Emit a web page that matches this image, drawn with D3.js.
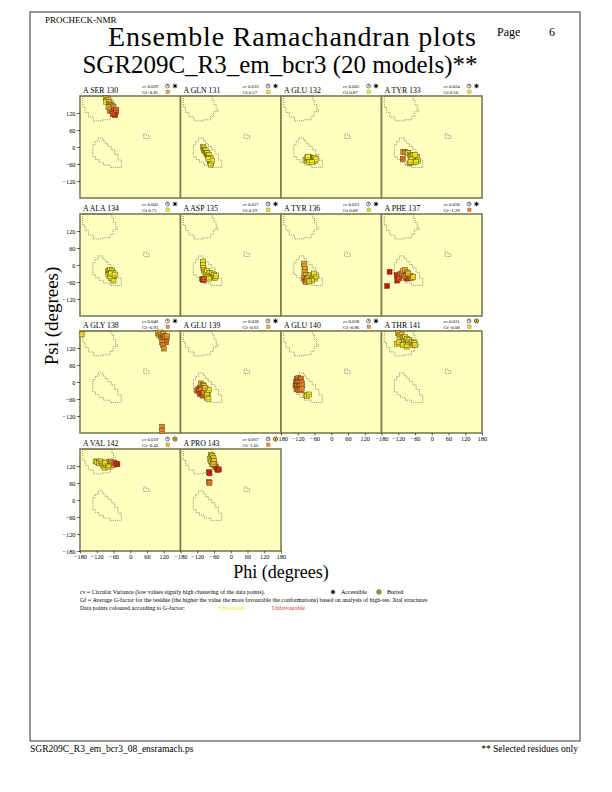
<!DOCTYPE html>
<meta charset="UTF-8">
<style>
body { margin: 0; background: #fff; }
.region { fill: none; stroke: #444; stroke-width: 0.6; stroke-dasharray: 1,1; }
.panel { fill: #ffffc0; stroke: #7c7c50; stroke-width: 1.6; }
</style>
<body>
<script src="https://cdnjs.cloudflare.com/ajax/libs/d3/7.8.5/d3.min.js"></script>
<script>
// residue labels and per-residue stats
const residues = ["A SER 130", "A GLN 131", "A GLU 132", "A TYR 133", "A ALA 134", "A ASP 135", "A TYR 136",
  "A PHE 137", "A GLY 138", "A GLU 139", "A GLU 140", "A THR 141", "A VAL 142", "A PRO 143"];
const cvValues = [0.029, 0.016, 0.005, 0.024, 0.003, 0.027, 0.023, 0.058, 0.046, 0.028, 0.028, 0.031, 0.019, 0.067];
const gfValues = [-0.81, 0.57, 0.87, 0.50, 0.75, 0.19, 0.09, -1.29, -0.93, -0.61, -0.86, -0.08, -0.43, -1.05];
const exposure = ["A", "A", "A", "A", "A", "A", "A", "A", "A", "A", "A", "B", "B", "B"];

// model points: [phi, psi, g-factor]
const ser130 = [[-88,172,0.3],[-84,168,0.2],[-80,165,0.1],[-86,160,0.2],[-76,158,-0.2],[-72,152,-0.3],[-68,148,-0.5],[-64,144,-0.6],[-60,140,-0.9],[-70,135,-1.0],[-74,128,-1.2],[-66,126,-1.4],[-58,128,-1.5],[-56,120,-2.0],[-52,124,-2.2],[-60,116,-2.5],[-54,112,-2.6],[-62,118,-2.0],[-50,130,-1.8],[-78,140,-0.8]];
const gln131 = [[-100,0,0.6],[-97,-5,0.5],[-95,-10,0.7],[-92,-15,0.4],[-90,-12,0.6],[-88,-20,0.5],[-86,-25,0.3],[-84,-22,0.6],[-82,-30,0.7],[-80,-35,0.5],[-78,-28,0.4],[-76,-40,0.6],[-74,-45,0.5],[-72,-38,0.8],[-75,-50,0.6],[-73,-55,0.4],[-70,-58,0.5],[-72,-62,0.6],[-68,-48,0.7],[-80,-42,0.6]];
const glu132 = [[-92,-45,0.8],[-88,-40,0.9],[-85,-48,0.7],[-82,-38,1.0],[-80,-44,0.8],[-78,-35,0.9],[-76,-42,0.7],[-74,-48,0.9],[-72,-38,0.8],[-70,-45,1.0],[-68,-40,0.9],[-66,-50,0.8],[-64,-42,0.7],[-62,-46,0.9],[-60,-38,0.8],[-58,-48,1.0],[-56,-44,0.9],[-78,-52,0.8],[-84,-34,0.9],[-70,-54,0.8]];
const tyr133 = [[-102,-18,-1.2],[-96,-18,-0.8],[-90,-20,-0.5],[-104,-42,-1.6],[-80,-58,-1.0],[-84,-22,0.3],[-78,-28,0.6],[-74,-32,0.8],[-70,-36,0.7],[-66,-30,0.9],[-62,-40,0.8],[-58,-44,0.7],[-54,-36,0.9],[-50,-48,0.6],[-68,-48,0.8],[-64,-54,0.7],[-72,-44,0.9],[-76,-52,0.5],[-60,-28,0.8],[-56,-52,0.7]];
const ala134 = [[-80,-25,0.7],[-76,-20,0.8],[-72,-18,0.9],[-70,-28,0.7],[-66,-22,0.8],[-64,-30,0.9],[-62,-35,0.7],[-68,-38,0.8],[-74,-32,0.6],[-78,-36,0.7],[-60,-28,0.8],[-58,-40,0.9],[-66,-44,0.7],[-62,-48,0.8],[-70,-45,0.8],[-60,-55,0.6],[-64,-40,0.9],[-72,-40,0.7],[-68,-30,0.8],[-56,-34,0.7]];
const asp135 = [[-100,12,0.5],[-99,0,0.4],[-98,-10,0.6],[-96,-18,0.3],[-94,-25,0.5],[-88,-30,0.4],[-84,-22,0.6],[-80,-35,0.5],[-76,-28,0.4],[-72,-38,0.6],[-68,-30,0.5],[-64,-42,0.4],[-60,-35,0.6],[-56,-45,0.3],[-52,-40,0.5],[-86,-44,0.4],[-78,-48,0.3],[-102,-50,-2.8],[-98,-54,-2.5],[-95,-50,-1.8]];
const tyr136 = [[-98,5,-0.8],[-96,-5,-0.6],[-94,-15,-0.5],[-96,-25,-1.0],[-92,-35,-0.7],[-98,-45,-1.3],[-94,-55,-1.5],[-90,-60,-1.1],[-86,-50,-0.4],[-82,-45,0.3],[-78,-40,0.5],[-74,-35,0.6],[-70,-45,0.4],[-66,-38,0.7],[-62,-42,0.6],[-58,-48,0.5],[-54,-40,0.7],[-70,-55,0.3],[-80,-58,-0.2],[-62,-30,0.6]];
const phe137 = [[-151,-24,-3.0],[-160,-74,-3.0],[-126,-35,-2.6],[-122,-42,-2.4],[-124,-55,-2.8],[-112,-32,-1.6],[-106,-30,-1.2],[-102,-20,-0.9],[-96,-18,-0.6],[-90,-26,-0.8],[-88,-35,-1.0],[-92,-45,-2.2],[-86,-48,-2.6],[-80,-44,-1.8],[-76,-38,-1.4],[-72,-46,-0.9],[-66,-42,0.4],[-100,-40,-1.5],[-84,-30,-0.5],[-118,-48,-2.0]];
const gly138 = [[-174,168,0.2],[100,172,-0.6],[104,165,-0.8],[108,175,-0.5],[110,160,-0.9],[112,168,-1.0],[116,155,-1.1],[118,170,-0.7],[120,150,-1.3],[122,162,-0.9],[126,145,-1.5],[124,158,-1.2],[130,152,-1.8],[128,140,-1.6],[132,162,-1.0],[114,140,-1.2],[118,130,-1.4],[120,118,-1.1],[114,-158,-1.3],[114,-172,-1.2]];
const glu139 = [[-106,-5,-0.8],[-100,-10,-0.5],[-96,-15,-0.4],[-110,-20,-1.2],[-116,-25,-1.6],[-120,-30,-2.0],[-112,-32,-1.4],[-106,-28,-1.0],[-104,-40,-2.2],[-110,-42,-2.4],[-100,-48,-1.8],[-96,-35,-0.9],[-90,-25,-0.6],[-86,-30,0.2],[-82,-38,0.4],[-78,-28,0.5],[-86,-45,0.3],[-84,-55,0.6],[-80,-60,0.5],[-92,-22,-0.3]];
const glu140 = [[-124,10,-1.6],[-118,14,-1.4],[-112,8,-1.2],[-108,12,-1.5],[-126,0,-1.8],[-120,-2,-1.3],[-114,-5,-1.0],[-106,-2,-1.4],[-128,-12,-1.9],[-122,-15,-1.6],[-116,-18,-1.2],[-110,-15,-1.1],[-104,-12,-1.3],[-124,-25,-1.5],[-118,-28,-1.7],[-112,-30,-1.4],[-106,-24,-1.2],[-92,-46,0.4],[-86,-50,0.5],[-80,-44,0.3]];
const thr141 = [[-120,172,-0.6],[-116,165,-0.3],[-112,160,0.0],[-108,168,-0.4],[-104,155,0.2],[-100,150,0.3],[-96,158,0.1],[-92,145,0.4],[-88,152,0.2],[-84,140,0.3],[-80,148,0.1],[-76,135,0.2],[-72,142,0.4],[-68,130,0.3],[-64,138,0.2],[-60,130,0.1],[-124,135,0.3],[-118,140,0.2],[-104,130,0.3],[-90,125,0.2]];
const val142 = [[-124,136,0.2],[-118,134,0.3],[-112,130,0.1],[-106,136,0.2],[-100,128,0.0],[-96,120,0.2],[-92,114,0.3],[-88,124,0.1],[-84,132,0.0],[-80,126,-0.2],[-76,134,-0.3],[-72,128,-0.5],[-68,136,-0.6],[-64,130,-0.8],[-60,124,-1.0],[-56,132,-1.4],[-50,128,-2.4],[-46,126,-2.8],[-90,132,0.2],[-78,118,0.0]];
const pro143 = [[-70,160,0.1],[-72,152,0.0],[-66,156,-0.2],[-74,145,0.2],[-68,142,0.1],[-62,148,-0.3],[-70,136,-0.1],[-64,132,-0.4],[-60,138,-0.2],[-66,125,-0.6],[-58,122,-0.8],[-54,116,-1.5],[-50,110,-2.5],[-46,106,-2.8],[-42,108,-2.6],[-78,98,-3.0],[-76,94,-2.8],[-78,64,-1.6],[-76,60,-1.4],[-62,128,-0.5]];
const modelPoints = [ser130, gln131, glu132, tyr133, ala134, asp135, tyr136, phe137, gly138, glu139, glu140, thr141, val142, pro143];

// core region outlines [phi, psi]
const betaRegion = [[-170,180],[-170,140],[-162,140],[-162,122],[-150,122],[-150,106],[-132,106],[-132,92],[-100,92],[-100,96],[-72,96],[-72,108],[-62,108],[-62,124],[-52,124],[-52,150],[-60,150],[-60,166],[-66,166],[-66,180]];
const alphaRegion = [[-116,32],[-98,32],[-98,22],[-90,22],[-90,12],[-80,12],[-80,2],[-68,2],[-68,-10],[-56,-10],[-56,-26],[-44,-26],[-44,-46],[-32,-46],[-32,-72],[-72,-72],[-72,-64],[-96,-64],[-96,-54],[-112,-54],[-112,-44],[-124,-44],[-124,-34],[-134,-34],[-134,8],[-126,8],[-126,20],[-116,20]];
const leftAlphaRegion = [[48,46],[58,46],[58,40],[68,40],[68,30],[48,30]];
const betaDots = [[-46,124],[-46,134]];

const phiTicks = [-180, -120, -60, 0, 60, 120, 180];
const psiTicks = [-180, -120, -60, 0, 60, 120];

const serif = "'Liberation Serif', 'Times New Roman', Times, 'Nimbus Roman', 'DejaVu Serif', serif";
const W = 612, H = 792;
const svg = d3.select("body").append("svg").attr("width", W).attr("height", H)
  .attr("font-family", serif);

// page frame
svg.append("rect").attr("x", 30).attr("y", 12).attr("width", 550).attr("height", 729)
  .attr("fill", "none").attr("stroke", "#555").attr("stroke-width", 1.2);

svg.append("text").attr("x", 45).attr("y", 23).attr("font-size", 9).text("PROCHECK-NMR");
svg.append("text").attr("x", 292).attr("y", 46).attr("text-anchor", "middle").attr("font-size", 28)
  .attr("textLength", 368).attr("lengthAdjust", "spacing")
  .text("Ensemble Ramachandran plots");
svg.append("text").attr("x", 280).attr("y", 72.5).attr("text-anchor", "middle").attr("font-size", 26)
  .attr("textLength", 395).attr("lengthAdjust", "spacingAndGlyphs")
  .text("SGR209C_R3_em_bcr3 (20 models)**");
svg.append("text").attr("x", 497).attr("y", 36).attr("font-size", 12).text("Page");
svg.append("text").attr("x", 549).attr("y", 36).attr("font-size", 12).text("6");

svg.append("text").attr("x", 30).attr("y", 752).attr("font-size", 9.5).text("SGR209C_R3_em_bcr3_08_ensramach.ps");
svg.append("text").attr("x", 578).attr("y", 752).attr("text-anchor", "end").attr("font-size", 9.5).text("** Selected residues only");

// layout
const panelW = 100.5, panelH = 102;
const colLeft = c => 80 + c * panelW;
const rowTop = [96, 214, 331, 449];

const x = d3.scaleLinear().domain([-180, 180]).range([0, panelW]);
const y = d3.scaleLinear().domain([-180, 180]).range([panelH, 0]);
const gColor = d3.scaleLinear().domain([-3, -2, -1, 0, 1])
  .range(["#d01010", "#de4a16", "#e89830", "#e6d624", "#f2f020"]).clamp(true);
const line = d3.line().x(d => x(d[0])).y(d => y(d[1]));

function drawStar(g, cx, cy, r) {
  const s = g.append("g").attr("transform", `translate(${cx},${cy})`);
  for (let k = 0; k < 8; k++) {
    const a = k * Math.PI / 4;
    s.append("line").attr("x1", 0).attr("y1", 0)
      .attr("x2", r * Math.cos(a)).attr("y2", r * Math.sin(a))
      .attr("stroke", "#000").attr("stroke-width", 0.8);
  }
  s.append("circle").attr("r", r * 0.55).attr("fill", "#000");
}
function drawBuried(g, cx, cy, r) {
  g.append("circle").attr("cx", cx).attr("cy", cy).attr("r", r)
    .attr("fill", "#f0e020").attr("stroke", "#000").attr("stroke-width", 0.6);
  g.append("circle").attr("cx", cx).attr("cy", cy).attr("r", r * 0.3).attr("fill", "#000");
}
function drawClock(g, cx, cy, r) {
  g.append("circle").attr("cx", cx).attr("cy", cy).attr("r", r)
    .attr("fill", "#fff").attr("stroke", "#000").attr("stroke-width", 0.5);
  g.append("path").attr("d", `M${cx},${cy - r * 0.8} L${cx},${cy} L${cx + r * 0.6},${cy}`)
    .attr("fill", "none").attr("stroke", "#000").attr("stroke-width", 0.5);
}

residues.forEach((name, i) => {
  const r = Math.floor(i / 4), c = i % 4;
  const x0 = colLeft(c), y0 = rowTop[r];
  const g = svg.append("g").attr("transform", `translate(${x0},${y0})`);

  g.append("rect").attr("class", "panel").attr("width", panelW).attr("height", panelH);

  [betaRegion, alphaRegion, leftAlphaRegion].forEach(reg => {
    g.append("path").attr("class", "region").attr("d", line(reg) + "Z");
  });
  g.append("path").attr("class", "region").attr("d", line(betaDots));

  // header
  g.append("text").attr("x", 3).attr("y", -3).attr("font-size", 7.8).text(name);
  const cvT = g.append("text").attr("x", 62).attr("y", -8.5).attr("font-size", 4.8);
  cvT.append("tspan").attr("font-style", "italic").text("cv");
  cvT.append("tspan").text(" " + cvValues[i].toFixed(3));
  g.append("text").attr("x", 62).attr("y", -2.2).attr("font-size", 4.8)
    .text("Gf " + gfValues[i].toFixed(2));
  drawClock(g, 87.5, -10, 2);
  if (exposure[i] === "A") drawStar(g, 95, -10, 2.3);
  else drawBuried(g, 95, -10, 2.1);
  g.append("rect").attr("x", 86).attr("y", -6).attr("width", 3.6).attr("height", 3.6)
    .attr("fill", gColor(gfValues[i])).attr("stroke", "#666").attr("stroke-width", 0.3);

  // model points
  const pts = g.append("g");
  modelPoints[i].forEach((p, k) => {
    const px = x(p[0]), py = y(p[1]);
    pts.append("rect").attr("x", px - 2.5).attr("y", py - 2.5).attr("width", 5).attr("height", 5)
      .attr("fill", gColor(p[2])).attr("stroke", "#4a3a10").attr("stroke-width", 0.45);
    pts.append("text").attr("x", px).attr("y", py + 1).attr("text-anchor", "middle")
      .attr("font-size", 2.8).attr("fill", "#332").text(k + 1);
  });

  // axes
  if (c === 0) {
    const ya = d3.axisLeft(y).tickValues(r === 3 ? psiTicks : psiTicks.slice(1)).tickSize(3).tickPadding(1.5);
    const ag = g.append("g").call(ya).attr("font-size", 6.3);
    ag.select(".domain").remove();
    ag.selectAll("line").attr("stroke-width", 0.6);
  }
  const last = i === residues.length - 1 || c === 3;
  const hasBelow = i + 4 < residues.length;
  if (!hasBelow) {
    const xa = d3.axisBottom(x).tickValues(last ? phiTicks : phiTicks.slice(0, 6)).tickSize(2.5).tickPadding(1);
    const ag = g.append("g").attr("transform", `translate(0,${panelH})`).call(xa).attr("font-size", 6.3);
    ag.select(".domain").remove();
    ag.selectAll("line").attr("stroke-width", 0.6);
  }
});

// axis titles
svg.append("text").attr("transform", "translate(58,316) rotate(-90)").attr("text-anchor", "middle")
  .attr("font-size", 19).text("Psi (degrees)");
svg.append("text").attr("x", 281).attr("y", 578).attr("text-anchor", "middle")
  .attr("font-size", 18).text("Phi (degrees)");

// legend
const lg = svg.append("g").attr("font-size", 6);
const l1 = lg.append("text").attr("x", 80).attr("y", 594);
l1.append("tspan").attr("font-style", "italic").text("cv");
l1.append("tspan").text(" = Circular Variance (low values signify high clustering of the data points).");
drawStar(lg, 333, 592, 2.4);
lg.append("text").attr("x", 341).attr("y", 594).text("Accessible");
drawBuried(lg, 379, 592, 2.2);
lg.append("text").attr("x", 387).attr("y", 594).text("Buried");
lg.append("text").attr("x", 80).attr("y", 602)
  .text("Gf = Average G-factor for the residue (the higher the value the more favourable the conformations) based on analysis of high-res. Xtal structures");
lg.append("text").attr("x", 80).attr("y", 610).text("Data points coloured according to G-factor:");
lg.append("text").attr("x", 218).attr("y", 610).attr("fill", "#f0f000").text("Favourable");
lg.append("text").attr("x", 272).attr("y", 610).attr("fill", "#e03030").text("Unfavourable");

// force serif everywhere (axis groups set their own family)
svg.selectAll("text").style("font-family", serif);
</script>
</body>
